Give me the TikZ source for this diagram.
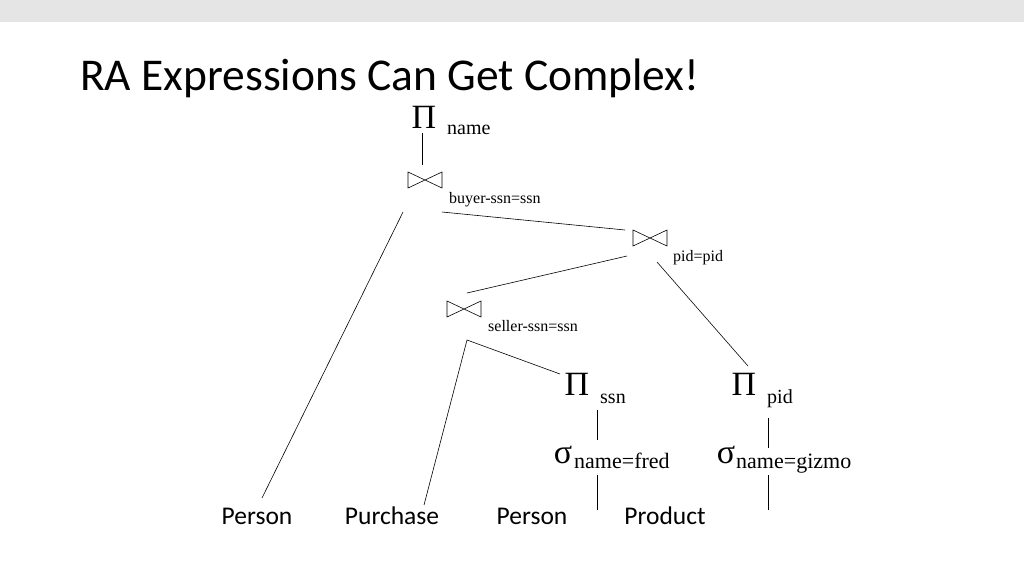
\documentclass[tikz,border=0pt]{standalone}
\usepackage{fontspec}
\setmainfont{Liberation Serif}
\newfontfamily\carl{Carlito}
\begin{document}
\begin{tikzpicture}[x=1pt,y=-1pt,
  ln/.style={draw,line width=0.6pt},
  lbl/.style={inner sep=0,anchor=base west,font=\fontsize{20}{20}\selectfont},
  sml/.style={inner sep=0,anchor=base west,font=\fontsize{16}{16}\selectfont},
  big/.style={inner sep=0,anchor=base,font=\fontsize{34}{34}\selectfont},
  leaf/.style={inner sep=0,anchor=base,font=\carl\fontsize{25.5}{25.5}\selectfont},
  bow/.pic={\draw[line width=0.6pt] (-17,-8)--(17,8)--(17,-8)--(-17,8)--cycle;}]
\useasboundingbox (0,0) rectangle (1024,576);
\fill[gray!20] (0,0) rectangle (1024,22);
\node[inner sep=0,anchor=base west,font=\carl\fontsize{45.5}{45.5}\selectfont] (title) at (80,90) {RA Expressions Can Get Complex!};
% top projection
\node[big] (p1) at (424,128) {Π};
\node[lbl] (p1l) at (447,134) {name};
\coordinate (a1) at (422,133); \coordinate (a2) at (422,165);
\draw[ln] (a1)--(a2);
% joins
\pic at (425,180) {bow};
\node[sml] (j1l) at (449,203) {buyer-ssn=ssn};
\pic at (650,238) {bow};
\node[sml] (j2l) at (673,261) {pid=pid};
\pic at (464,309) {bow};
\node[sml] (j3l) at (488,331) {seller-ssn=ssn};
% leaves
\node[leaf] (l1) at (257,524) {Person};
\node[leaf] (l2) at (392,524) {Purchase};
\node[leaf] (l3) at (532,524) {Person};
\node[leaf] (l4) at (665,524) {Product};
% projections/selections
\node[big] (p2) at (577,395) {Π};
\node[lbl] (p2l) at (600,403) {ssn};
\node[big] (s1) at (563,463) {σ};
\node[lbl,font=\fontsize{22}{22}\selectfont] (s1l) at (574,468) {name=fred};
\node[big] (p3) at (744,395) {Π};
\node[lbl] (p3l) at (767,403) {pid};
\node[big] (s2) at (726,463) {σ};
\node[lbl,font=\fontsize{22}{22}\selectfont] (s2l) at (736,468) {name=gizmo};
% connectors
\coordinate (b1) at (403,212); \coordinate (b2) at (262,498);
\coordinate (c1) at (442,212); \coordinate (c2) at (625,230);
\coordinate (d1) at (627,256); \coordinate (d2) at (467,293);
\coordinate (e1) at (657,262); \coordinate (e2) at (748,366);
\coordinate (f1) at (467,340); \coordinate (f2) at (424,505); \coordinate (f3) at (560,374);
\coordinate (g1) at (597,410); \coordinate (g2) at (597,440);
\coordinate (h1) at (597,475); \coordinate (h2) at (597,510);
\coordinate (i1) at (768,418); \coordinate (i2) at (768,448);
\coordinate (k1) at (768,475); \coordinate (k2) at (768,510);
\draw[ln] (b1)--(b2); \draw[ln] (c1)--(c2); \draw[ln] (d1)--(d2);
\draw[ln] (e1)--(e2); \draw[ln] (f2)--(f1)--(f3);
\draw[ln] (g1)--(g2); \draw[ln] (h1)--(h2);
\draw[ln] (i1)--(i2); \draw[ln] (k1)--(k2);
\end{tikzpicture}
\end{document}
